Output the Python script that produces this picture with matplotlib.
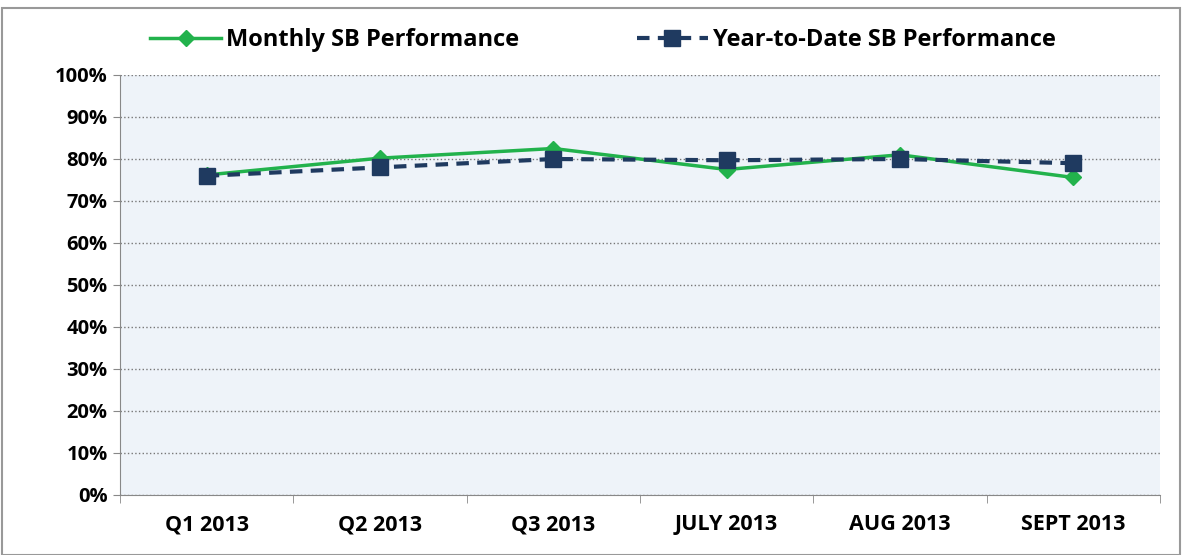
import numpy as np
import matplotlib.pyplot as plt
from matplotlib.patches import Rectangle

# chart data
periods = ['Q1 2013', 'Q2 2013', 'Q3 2013', 'JULY 2013', 'AUG 2013', 'SEPT 2013']
monthly = [76.2, 80.2, 82.5, 77.5, 81.0, 75.6]
ytd = [76.0, 78.0, 80.0, 79.7, 80.0, 79.0]

green = '#22B24C'
navy = '#1F3A60'

plt.rcParams['font.family'] = ['Open Sans', 'DejaVu Sans']
plt.rcParams['font.weight'] = 'bold'

fig = plt.figure(figsize=(11.82, 5.55), dpi=100)
ax = fig.add_axes([120/1182, 60/555, 1040/1182, 420/555])
ax.set_facecolor('#EEF3F9')

x = np.arange(len(periods))
ax.plot(x, monthly, color=green, lw=2.5, marker='D', ms=8, mfc=green, mec=green,
        label='Monthly SB Performance', zorder=3)
ax.plot(x, ytd, color=navy, lw=3, ls=(0, (3, 2)), marker='s', ms=12, mfc=navy, mec=navy,
        label='Year-to-Date SB Performance', zorder=4)

ax.set_xlim(-0.5, 5.5)
ax.set_ylim(0, 100)
ax.set_yticks(range(0, 101, 10))
ax.set_yticklabels([f'{v}%' for v in range(0, 101, 10)], fontsize=14.5, fontweight='bold')
ax.set_xticks(x)
ax.set_xticklabels(periods, fontsize=15.5, fontweight='bold')
ax.set_xticks(np.arange(-0.5, 6, 1), minor=True)
ax.tick_params(axis='x', which='major', length=0, pad=14)
ax.tick_params(axis='x', which='minor', length=6, color='#888888')
ax.tick_params(axis='y', length=5, color='#888888', pad=4)
ax.grid(axis='y', ls=':', color='#777777', lw=1)
ax.set_axisbelow(True)
for s in ['top', 'right']:
    ax.spines[s].set_visible(False)
ax.spines['left'].set_color('#888888')
ax.spines['bottom'].set_color('#888888')

fig.legend(loc='center', bbox_to_anchor=(0.51, 1 - 40/555), ncol=2, frameon=False,
           handlelength=3, handletextpad=0.2, columnspacing=5,
           prop={'weight': 'bold', 'size': 17})

fig.patches.append(Rectangle((0.002, 0.0), 0.996, 0.985, transform=fig.transFigure,
                             fill=False, ec='#999999', lw=1.5))

fig.savefig('out.png', dpi=100)
